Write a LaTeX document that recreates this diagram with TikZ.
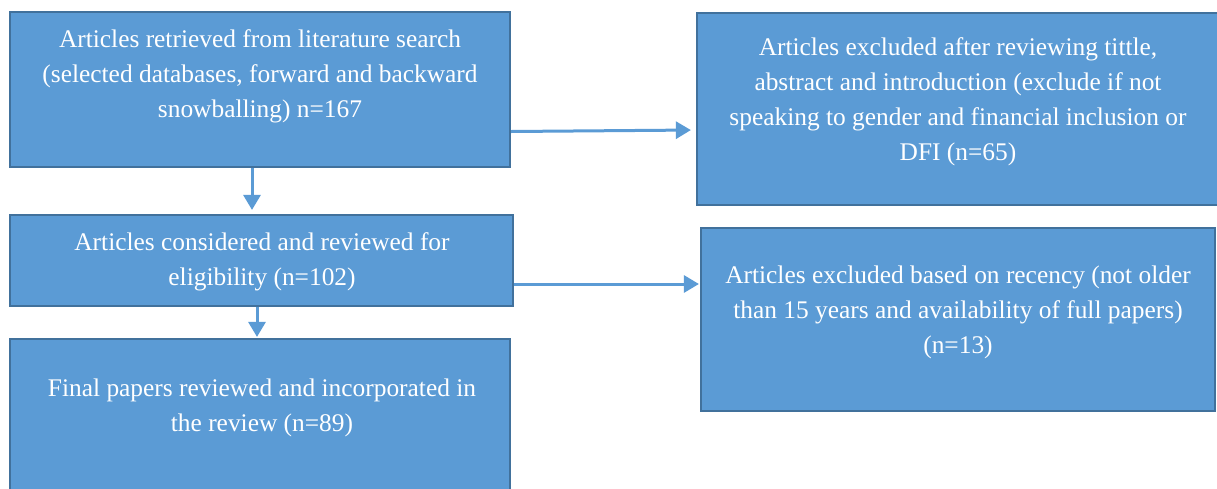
\documentclass[tikz,border=0pt]{standalone}
\usepackage{fontspec}
\setmainfont{Liberation Serif}
\usepackage{tikz}
\usetikzlibrary{arrows.meta,calc}
\definecolor{boxblue}{HTML}{5B9BD5}
\definecolor{boxedge}{HTML}{41719C}
\tikzstyle{stage}=[draw=boxedge,line width=1.1pt,fill=boxblue,inner sep=0pt]
\tikzstyle{stagetext}=[text=white,align=center,inner sep=0pt,font=\fontsize{12.7pt}{17.5pt}\selectfont]
\tikzstyle{line} = [draw=boxblue, line width=1.5pt, -{Triangle[length=7.5pt,width=8.5pt]}]

\begin{document}
\begin{tikzpicture}[x=0.5pt, y=-0.5pt]
  \useasboundingbox (0,0) rectangle (1217,488);

  % boxes
  \node[stage, minimum width=250pt, minimum height=77.5pt] (found) at (260,89.5) {};
  \node[stage, minimum width=261.5pt, minimum height=96pt] (excl1) at (958.5,109) {};
  \node[stage, minimum width=251.5pt, minimum height=45.5pt] (elig) at (261.5,260.5) {};
  \node[stage, minimum width=257pt, minimum height=91.5pt] (excl2) at (958,319.5) {};
  \node[stage, minimum width=250pt, minimum height=80.5pt] (final) at (260,419.5) {};

  %texts
  \node[stagetext] (foundtxt) at (260,76) {Articles retrieved from literature search\\(selected databases, forward and backward\\snowballing) n=167};
  \node[stagetext] (excl1txt) at (958,101.5) {Articles excluded after reviewing tittle,\\abstract and introduction (exclude if not\\speaking to gender and financial inclusion or\\DFI (n=65)};
  \node[stagetext] (eligtxt) at (262,261.5) {Articles considered and reviewed for\\eligibility (n=102)};
  \node[stagetext] (excl2txt) at (958,312.5) {Articles excluded based on recency (not older\\than 15 years and availability of full papers)\\(n=13)};
  \node[stagetext] (finaltxt) at (262,407.5) {Final papers reviewed and incorporated in\\the review (n=89)};

  % arrows
  \path[line, shorten >=2.5pt] ([yshift=-21pt]found.east) -- ([yshift=-10.5pt]excl1.west);
  \path[line, shorten >=2pt] ([xshift=-4pt]found.south) -- ([xshift=-4pt]found.south |- elig.north);
  \path[line, shorten >=0.5pt] ([yshift=-11.75pt]elig.east) -- ([yshift=17.75pt]excl2.west);
  \path[line, shorten >=0.5pt] ([xshift=-2.25pt]elig.south) -- ([xshift=-2.25pt]elig.south |- final.north);
\end{tikzpicture}
\end{document}
